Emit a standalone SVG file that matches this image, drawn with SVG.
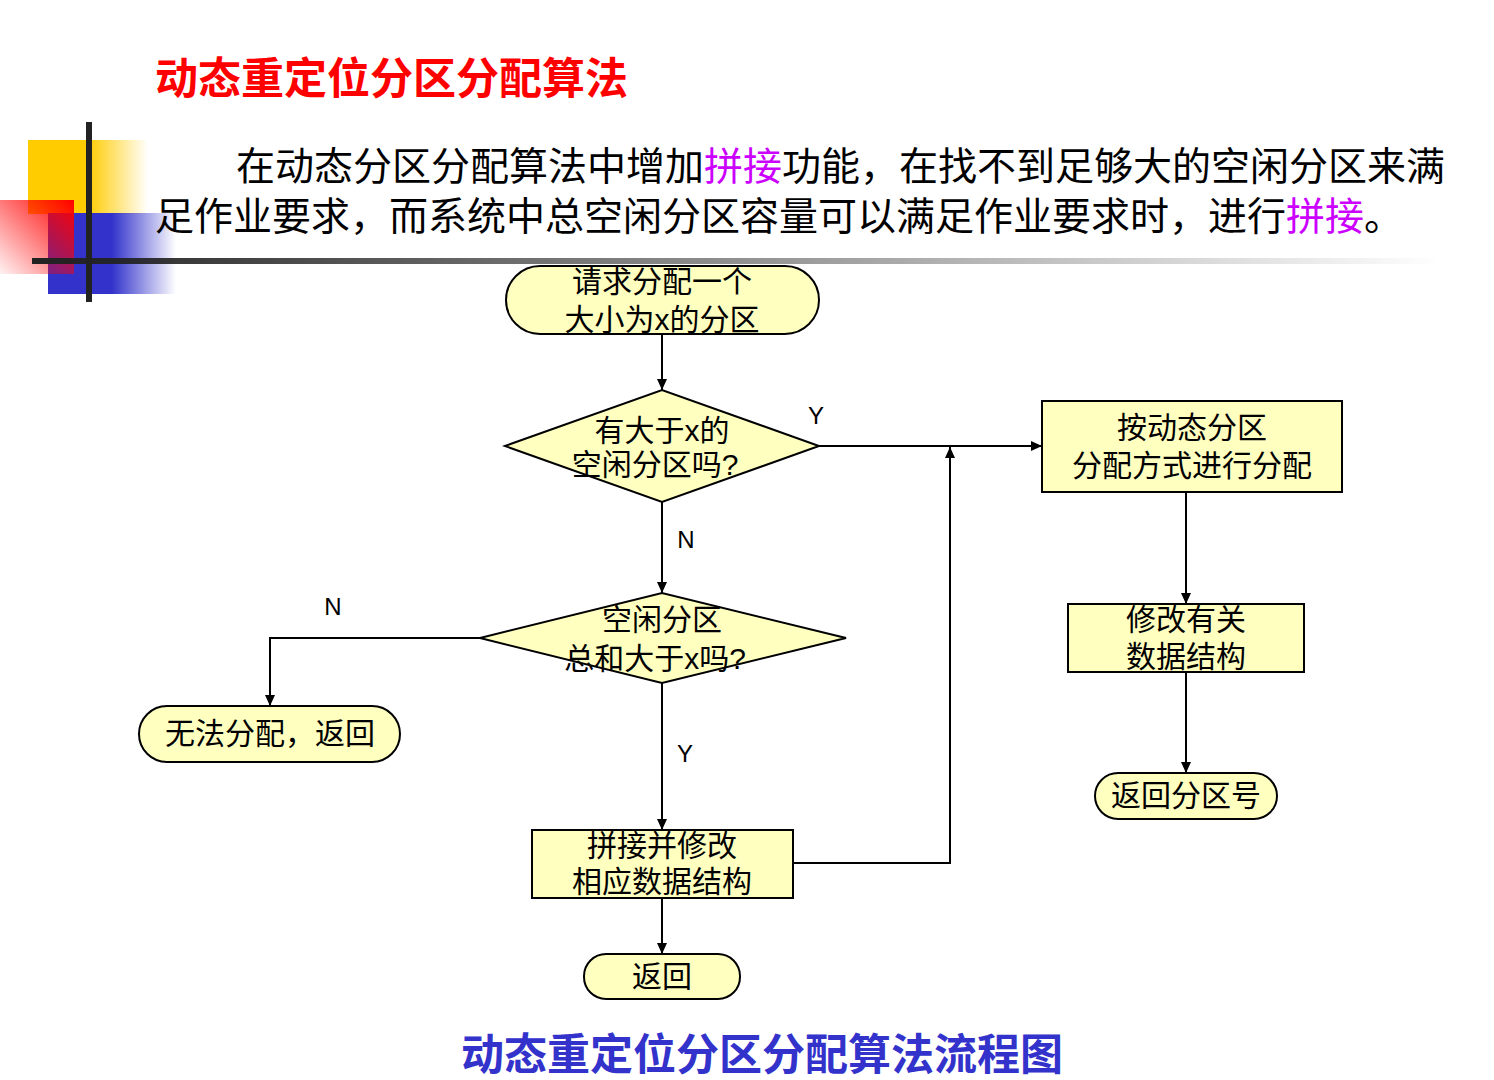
<svg xmlns="http://www.w3.org/2000/svg" width="1494" height="1080" viewBox="0 0 1494 1080">
<style>
.n{fill:#FFFFC0;stroke:#000;stroke-width:2}
.t{font-family:"Liberation Sans","Noto Sans CJK SC",sans-serif;font-size:30px;fill:#000;text-anchor:middle}
.c{stroke:#000;stroke-width:2;fill:none}
.l{font-family:"Liberation Sans",sans-serif;font-size:24px;fill:#000;text-anchor:middle}
.p{font-family:"Liberation Sans","Noto Sans CJK SC",sans-serif;font-size:39px;fill:#000}
</style>
<defs>
<marker id="a" markerWidth="12" markerHeight="12" refX="11" refY="6" orient="auto" markerUnits="userSpaceOnUse"><path d="M0,1 L11,6 L0,11 Z" fill="#000"/></marker>
<linearGradient id="gy" x1="0" x2="1"><stop offset="0.5" stop-color="#FFCC00"/><stop offset="1" stop-color="#FFCC00" stop-opacity="0"/></linearGradient>
<linearGradient id="gb" x1="0" x2="1"><stop offset="0.5" stop-color="#3333CC"/><stop offset="1" stop-color="#3333CC" stop-opacity="0"/></linearGradient>
<linearGradient id="gr" x1="1" y1="0" x2="0" y2="1"><stop offset="0" stop-color="#FF0000"/><stop offset="1" stop-color="#FF0000" stop-opacity="0.05"/></linearGradient>
<linearGradient id="gl" x1="0" x2="1"><stop offset="0" stop-color="#222"/><stop offset="1" stop-color="#222" stop-opacity="0"/></linearGradient>
</defs>
<rect width="1494" height="1080" fill="#fff"/>
<g id="deco">
<rect x="28" y="140" width="120" height="74" fill="url(#gy)"/>
<rect x="48" y="213" width="128" height="81" fill="url(#gb)"/>
<rect x="0" y="200" width="74" height="74" fill="url(#gr)"/>
<rect x="86" y="122" width="6" height="180" fill="#222"/>
<rect x="32" y="258" width="1410" height="6" fill="url(#gl)"/>
</g>
<text x="155" y="94" font-family="Liberation Sans,Noto Sans CJK SC,sans-serif" font-size="43" font-weight="bold" fill="#FF0000">动态重定位分区分配算法</text>
<text class="p" x="236" y="180">在动态分区分配算法中增加<tspan fill="#CC00FF">拼接</tspan>功能，在找不到足够大的空闲分区来满</text>
<text class="p" x="155" y="230">足作业要求，而系统中总空闲分区容量可以满足作业要求时，进行<tspan fill="#CC00FF">拼接</tspan>。</text>
<g id="connectors">
<path class="c" d="M662,334 V390" marker-end="url(#a)"/>
<path class="c" d="M819,446 H1042" marker-end="url(#a)"/>
<path class="c" d="M662,502 V593" marker-end="url(#a)"/>
<path class="c" d="M480,638 H270 V706" marker-end="url(#a)"/>
<path class="c" d="M662,683 V830" marker-end="url(#a)"/>
<path class="c" d="M793,863 H950 V447" marker-end="url(#a)"/>
<path class="c" d="M1186,492 V604" marker-end="url(#a)"/>
<path class="c" d="M1186,672 V773" marker-end="url(#a)"/>
<path class="c" d="M662,898 V954" marker-end="url(#a)"/>
<text class="l" x="816" y="424">Y</text>
<text class="l" x="686" y="548">N</text>
<text class="l" x="333" y="615">N</text>
<text class="l" x="685" y="762">Y</text>
</g>
<g id="start"><rect class="n" x="506" y="266" width="313" height="68" rx="34"/><text class="t" x="662" y="292">请求分配一个</text><text class="t" x="662" y="330">大小为x的分区</text></g>
<g id="d1"><polygon class="n" points="505,446 662,390 819,446 662,502"/><text class="t" x="662" y="441">有大于x的</text><text class="t" x="655" y="475">空闲分区吗?</text></g>
<g id="b1"><rect class="n" x="1042" y="401" width="300" height="91"/><text class="t" x="1192" y="438">按动态分区</text><text class="t" x="1192" y="476">分配方式进行分配</text></g>
<g id="d2"><polygon class="n" points="480,638 662,593 846,638 662,683"/><text class="t" x="662" y="630">空闲分区</text><text class="t" x="655" y="669">总和大于x吗?</text></g>
<g id="fail"><rect class="n" x="139" y="706" width="261" height="56" rx="28"/><text class="t" x="270" y="744">无法分配，返回</text></g>
<g id="b2"><rect class="n" x="1068" y="604" width="236" height="68"/><text class="t" x="1186" y="630">修改有关</text><text class="t" x="1186" y="667">数据结构</text></g>
<g id="ret2"><rect class="n" x="1095" y="773" width="182" height="46" rx="23"/><text class="t" x="1186" y="806">返回分区号</text></g>
<g id="b3"><rect class="n" x="532" y="830" width="261" height="68"/><text class="t" x="662" y="856">拼接并修改</text><text class="t" x="662" y="892">相应数据结构</text></g>
<g id="ret"><rect class="n" x="584" y="954" width="156" height="45" rx="22"/><text class="t" x="662" y="987">返回</text></g>
<text x="762" y="1070" text-anchor="middle" font-family="Liberation Sans,Noto Sans CJK SC,sans-serif" font-size="43" font-weight="bold" fill="#3333CC">动态重定位分区分配算法流程图</text>
</svg>
